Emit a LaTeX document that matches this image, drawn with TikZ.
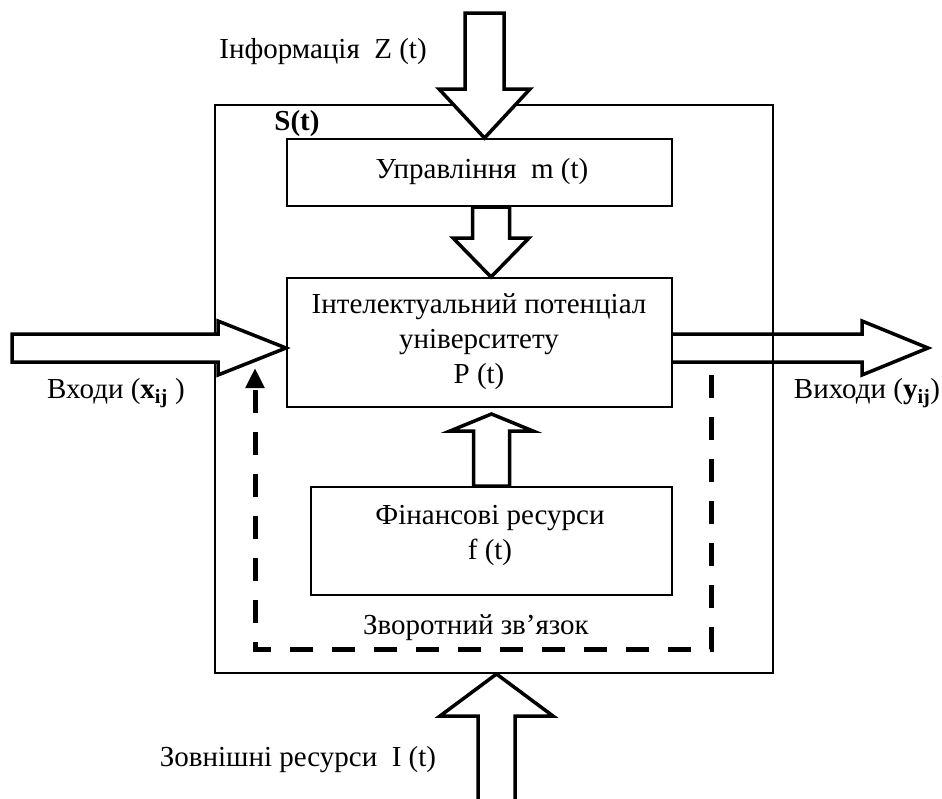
\documentclass[tikz,border=0pt]{standalone}
\usepackage{fontspec}
\setmainfont{Liberation Serif}
\newfontfamily\diagfont{Liberation Serif}
\usetikzlibrary{arrows.meta,calc}
\begin{document}
\begin{tikzpicture}[x=1pt,y=-1pt,
  txt/.style={font=\diagfont\fontsize{29}{35}\selectfont, inner sep=0pt, align=center},
  box/.style={draw, line width=2pt, inner sep=0pt},
  blockarrow/.style={draw, line width=3.5pt, fill=white, line join=miter},
  feedback/.style={line width=5pt, dash pattern=on 23pt off 19pt, line join=miter,
    -{Triangle[width=18pt,length=20pt]}}
]
\useasboundingbox (0,0) rectangle (942,798);
\fill[white] (0,0) rectangle (942,798);

% boxes
\node[box, minimum width=558pt, minimum height=568pt] (S) at (494,389) {};
\node[box, minimum width=385pt, minimum height=67pt] (U) at (479.5,172.5) {};
\node[box, minimum width=385pt, minimum height=129pt] (P) at (479.5,342.5) {};
\node[box, minimum width=361pt, minimum height=108pt] (F) at (491.5,541) {};

% texts
\node[txt] (Ut) at (482,172) {Управління\ \ m (t)};
\node[txt] (Pt) at (479,342) {Інтелектуальний потенціал\\університету\\P (t)};
\node[txt] (Ft) at (490,535) {Фінансові ресурси\\f (t)};
\node[txt, font=\diagfont\fontsize{29}{35}\selectfont\bfseries] (St) at (297,124) {S(t)};
\node[txt] (Zl) at (323,52) {Інформація\ \ Z (t)};
\node[txt] (Xl) at (116,393) {Входи ({\bfseries x}\textsubscript{\bfseries ij} )};
\node[txt] (Yl) at (867,393) {Виходи ({\bfseries y}\textsubscript{\bfseries ij})};
\node[txt] (FBl) at (476,628) {Зворотний зв’язок};
\node[txt] (Il) at (298,760) {Зовнішні ресурси\ \ I (t)};

% helper coordinates
\coordinate (cz) at (484.5,13);
\coordinate (c2) at (491,0);
\coordinate (c3) at (491.5,0);
\coordinate (ci) at (496.5,805);
\coordinate (cin) at (12,348);
\coordinate (cout) at (928,348);

% feedback dashed loop
\coordinate (fbstart) at (711,375);
\coordinate (fbend) at (255,368);
\draw[feedback] (fbstart) -- (fbstart |- 0,649) -- (fbend |- 0,649) -- (fbend);

% right output arrow (unfilled, box line shows through)
\draw[blockarrow, fill=none] (P.east |- 0,334) -- (862,334) -- (862,321) -- (cout)
  -- (862,375) -- (862,362) -- (P.east |- 0,362);

% top information arrow
\draw[blockarrow] ($(cz)+(-19.5,0)$) -- ($(cz)+(-19.5,76)$) -- ($(cz)+(-45.5,76)$)
  -- (cz |- U.north) -- ($(cz)+(45.5,76)$) -- ($(cz)+(19.5,76)$) -- ($(cz)+(19.5,0)$) -- cycle;

% U -> P
\draw[blockarrow] ($(c2|-U.south)+(-18.5,0)$) -- ($(c2|-U.south)+(-18.5,31)$) -- ($(c2|-U.south)+(-38,31)$)
  -- (c2|-P.north) -- ($(c2|-U.south)+(38,31)$) -- ($(c2|-U.south)+(18.5,31)$) -- ($(c2|-U.south)+(18.5,0)$) -- cycle;

% F -> P
\draw[blockarrow] ($(c3|-F.north)+(-18,0)$) -- ($(c3|-F.north)+(-18,-55)$) -- ($(c3|-F.north)+(-41.5,-55)$)
  -- ($(c3|-P.south)+(0,6)$) -- ($(c3|-F.north)+(41.5,-55)$) -- ($(c3|-F.north)+(18,-55)$) -- ($(c3|-F.north)+(18,0)$) -- cycle;

% external resources arrow
\draw[blockarrow] ($(ci)+(-18.5,0)$) -- ($(ci)+(-18.5,-89)$) -- ($(ci)+(-56.5,-89)$)
  -- (ci |- S.south) -- ($(ci)+(56.5,-89)$) -- ($(ci)+(18.5,-89)$) -- ($(ci)+(18.5,0)$);

% input arrow
\draw[blockarrow] (cin |- 0,334) -- (218,334) -- (218,321) -- (P.west |- cin)
  -- (218,375) -- (218,362) -- (cin |- 0,362) -- cycle;
\end{tikzpicture}
\end{document}
